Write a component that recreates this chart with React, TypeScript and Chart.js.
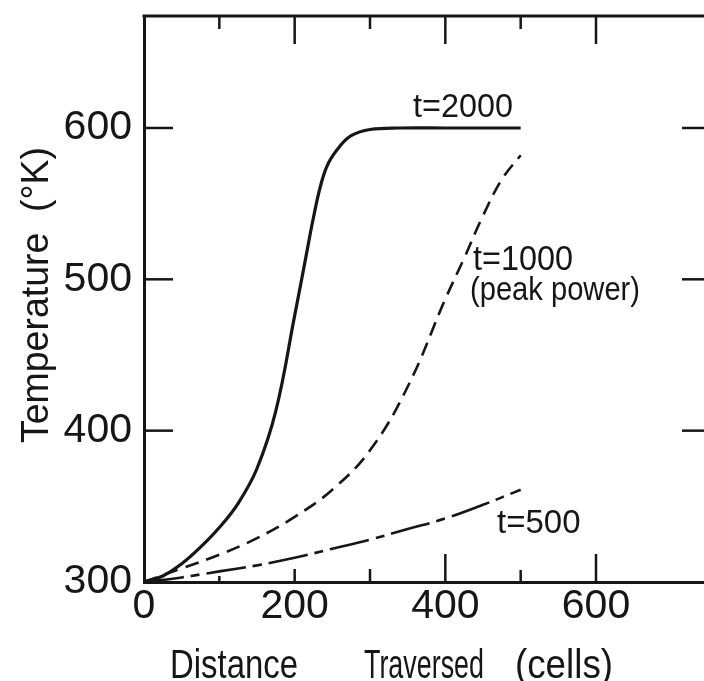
import React, { useEffect, useRef } from "react";
import { Chart, registerables } from "chart.js";

Chart.register(...registerables);

// ---------- data ----------
const X_TICKS = [0, 200, 400, 600];
const Y_TICKS = [300, 400, 500, 600];
const X_MINOR = [100, 300, 500];
const Y_SIDE_TICKS = [400, 500, 600];

const t2000X = [0, 25, 50, 75, 100, 125, 150, 175, 200, 215, 225, 235, 245, 260, 275, 300, 340, 400, 450, 500];
const t2000Y = [300, 304, 312, 323, 336, 352, 375, 413, 476, 515, 541, 563, 577, 588, 595, 599, 600, 600, 600, 600];

const t1000X = [0, 50, 100, 150, 200, 250, 300, 350, 400, 425, 450, 475, 500];
const t1000Y = [300, 309, 318, 329, 343, 361, 387, 429, 487, 514, 542, 566, 582];

const t500X = [0, 50, 75, 100, 150, 200, 250, 300, 350, 400, 450, 500];
const t500Y = [300, 303, 305, 307, 311, 316, 322, 328, 335, 342, 351, 361];

const LABELS = ["t=2000", "t=1000", "(peak power)", "t=500"];
const X_TITLE = ["Distance", "Traversed", "(cells)"];
const Y_TITLE = "Temperature  (°K)";

const INK = "#161616";
const FONT = '"Liberation Sans", Arial, "DejaVu Sans", sans-serif';

const pts = (xs: number[], ys: number[]) => xs.map((x, i) => ({ x, y: ys[i] }));

const framePlugin = {
  id: "frameTicks",
  afterDraw(chart: any) {
    const { ctx, chartArea, scales } = chart;
    const { left, right, top, bottom } = chartArea;
    const xs = scales.x;
    const ys = scales.y;
    ctx.save();
    ctx.strokeStyle = INK;
    ctx.lineWidth = 3;
    ctx.beginPath();
    ctx.moveTo(left - 1.5, top);
    ctx.lineTo(right, top);
    ctx.lineTo(right, bottom);
    ctx.stroke();

    ctx.lineWidth = 2.5;
    const bottomLen: Record<number, number> = { 100: 6, 200: 13, 300: 13, 400: 28, 500: 12, 600: 28 };
    const line = (x1: number, y1: number, x2: number, y2: number) => {
      ctx.beginPath();
      ctx.moveTo(x1, y1);
      ctx.lineTo(x2, y2);
      ctx.stroke();
    };
    [...X_TICKS, ...X_MINOR].forEach((v) => {
      if (v === 0) return;
      const px = xs.getPixelForValue(v);
      const major = X_TICKS.includes(v);
      line(px, top, px, top + (major ? 28 : 13));
      line(px, bottom, px, bottom - (bottomLen[v] ?? 12));
    });
    Y_SIDE_TICKS.forEach((v) => {
      const py = ys.getPixelForValue(v);
      line(left, py, left + 29, py);
      line(right, py, right - 27, py);
    });

    // texts
    ctx.fillStyle = INK;
    ctx.textBaseline = "alphabetic";
    ctx.textAlign = "left";
    ctx.font = `33px ${FONT}`;
    ctx.fillText(LABELS[0], 413, 117, 100);
    ctx.font = `35px ${FONT}`;
    ctx.fillText(LABELS[1], 473, 270, 100);
    ctx.font = `33px ${FONT}`;
    ctx.fillText(LABELS[2], 470, 300, 170);
    ctx.fillText(LABELS[3], 497, 533, 84);

    ctx.font = `41px ${FONT}`;
    ctx.fillText(X_TITLE[0], 170, 678, 128);
    ctx.fillText(X_TITLE[1], 364, 678, 120);
    ctx.fillText(X_TITLE[2], 515, 678, 98);

    ctx.save();
    ctx.translate(48, 295);
    ctx.rotate(-Math.PI / 2);
    ctx.textAlign = "center";
    ctx.font = `38px ${FONT}`;
    ctx.fillText(Y_TITLE, 0, 0, 296);
    ctx.restore();
    ctx.restore();
  },
};

export default function App() {
  const ref = useRef<HTMLCanvasElement>(null);
  useEffect(() => {
    document.body.style.margin = "0";
    const canvas = ref.current!;
    const tickFont = { family: FONT, size: 41 };
    const chart = new Chart(canvas, {
      type: "line",
      data: {
        datasets: [
          {
            label: "t=2000",
            data: pts(t2000X, t2000Y),
            borderColor: INK,
            borderWidth: 3.2,
            pointRadius: 0,
            tension: 0.4,
          },
          {
            label: "t=1000",
            data: pts(t1000X, t1000Y),
            borderColor: INK,
            borderWidth: 2.6,
            borderDash: [14, 8],
            pointRadius: 0,
            tension: 0.4,
          },
          {
            label: "t=500",
            data: pts(t500X, t500Y),
            borderColor: INK,
            borderWidth: 2.6,
            borderDash: [40, 7, 9, 7],
            pointRadius: 0,
            tension: 0.4,
          },
        ],
      },
      options: {
        animation: false,
        responsive: false,
        events: [],
        layout: { padding: { top: 16, right: 11, left: 0, bottom: 0 } },
        plugins: { legend: { display: false }, tooltip: { enabled: false } },
        scales: {
          x: {
            type: "linear",
            min: 0,
            max: 750,
            afterBuildTicks: (s: any) => {
              s.ticks = X_TICKS.map((v) => ({ value: v }));
            },
            afterFit: (s: any) => {
              s.height = 99;
              s.paddingLeft = 0;
              s.paddingRight = 0;
            },
            ticks: { font: tickFont, color: INK, padding: 0, maxRotation: 0, autoSkip: false },
            grid: { display: false, drawTicks: false },
            border: { display: true, width: 3, color: INK },
          },
          y: {
            type: "linear",
            min: 300,
            max: 674,
            afterBuildTicks: (s: any) => {
              s.ticks = Y_TICKS.map((v) => ({ value: v }));
            },
            afterFit: (s: any) => {
              s.width = 144;
              s.paddingTop = 0;
              s.paddingBottom = 0;
            },
            ticks: { font: tickFont, color: INK, padding: 12, autoSkip: false },
            grid: { display: false, drawTicks: false },
            border: { display: true, width: 3, color: INK },
          },
        },
      },
      plugins: [framePlugin],
    } as any);
    return () => chart.destroy();
  }, []);
  return (
    <div style={{ width: 704, height: 681, overflow: "hidden", background: "#fff" }}>
      <canvas ref={ref} width={720} height={681} style={{ display: "block", width: 720, height: 681 }} />
    </div>
  );
}
